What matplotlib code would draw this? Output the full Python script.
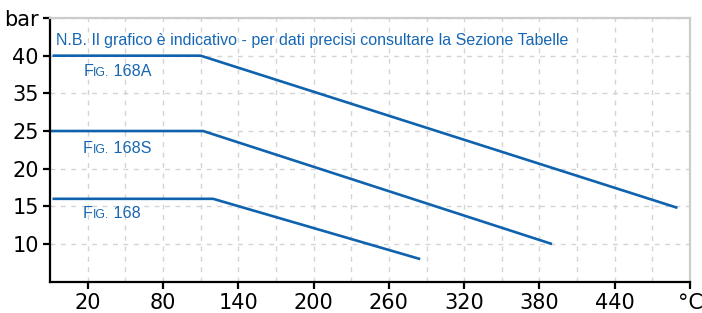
import numpy as np
import matplotlib
matplotlib.use("Agg")
import matplotlib.pyplot as plt

# dati (temperatura °C, pressione bar)
temp_168A = [-8, 110, 490]
bar_168A = [40, 40, 14.8]
temp_168S = [-10, 112, 390]
bar_168S = [25, 25, 10]
temp_168 = [-8, 120, 285]
bar_168 = [16, 16, 8]

x_ticks = [20, 80, 140, 200, 260, 320, 380, 440, 500]
x_labels = ["20", "80", "140", "200", "260", "320", "380", "440", "°C"]
y_ticks = [10, 15, 20, 25, 35, 40, 45]
y_labels = ["10", "15", "20", "25", "35", "40", "bar"]

blue = "#0f62ad"
text_blue = "#1667b3"


# asse y non lineare: tra 25 e 35 la scala e' compressa
def fwd(v):
    return np.interp(v, [-100, 25, 35, 200], [-100, 25, 30, 195])


def inv(p):
    return np.interp(p, [-100, 25, 30, 195], [-100, 25, 35, 200])


fig = plt.figure(figsize=(7.02, 3.13), dpi=100)
ax = fig.add_axes([0.0712, 0.1, 0.9118, 0.8425])
ax.set_yscale("function", functions=(fwd, inv))

ax.plot(temp_168A, bar_168A, color=blue, lw=1.9, solid_capstyle="butt")
ax.plot(temp_168S, bar_168S, color=blue, lw=1.9, solid_capstyle="butt")
ax.plot(temp_168, bar_168, color=blue, lw=1.9, solid_capstyle="butt")

ax.set_xlim(-10, 500)
ax.set_ylim(5, 45)

ax.set_xticks(x_ticks)
ax.set_xticklabels(x_labels)
ax.set_xticks(np.arange(50, 500, 60), minor=True)
ax.set_yticks(y_ticks)
ax.set_yticklabels(y_labels)
ax.tick_params(which="major", length=5, width=1.6, labelsize=15, pad=3)
ax.tick_params(which="minor", length=0)

ax.grid(True, which="both", color="#d4d4d4", linestyle=(0, (3.5, 4)), lw=1.0)
ax.set_axisbelow(True)

for s in ["left", "bottom"]:
    ax.spines[s].set_color("black")
    ax.spines[s].set_linewidth(1.6)
for s in ["top", "right"]:
    ax.spines[s].set_color("#cccccc")
    ax.spines[s].set_linewidth(1.6)

font = "Liberation Sans"
ax.text(0.009, 0.898, "N.B. Il grafico è indicativo - per dati precisi consultare la Sezione Tabelle",
        transform=ax.transAxes, fontsize=11.5, family=font, color=text_blue, va="baseline")


def fig_label(xf, yf, num):
    t1 = ax.text(xf, yf, "F", transform=ax.transAxes, fontsize=11.6, family=font,
                 color=text_blue, va="baseline")
    t2 = ax.annotate("IG.", xy=(1, 0), xycoords=t1, fontsize=8.8, family=font,
                     color=text_blue, va="bottom")
    ax.annotate(" " + num, xy=(1, 0), xycoords=t2, fontsize=11.6, family=font,
                color=text_blue, va="bottom")


fig_label(0.052, 0.781, "168A")
fig_label(0.051, 0.487, "168S")
fig_label(0.051, 0.240, "168")

fig.savefig("out.png", dpi=100)
